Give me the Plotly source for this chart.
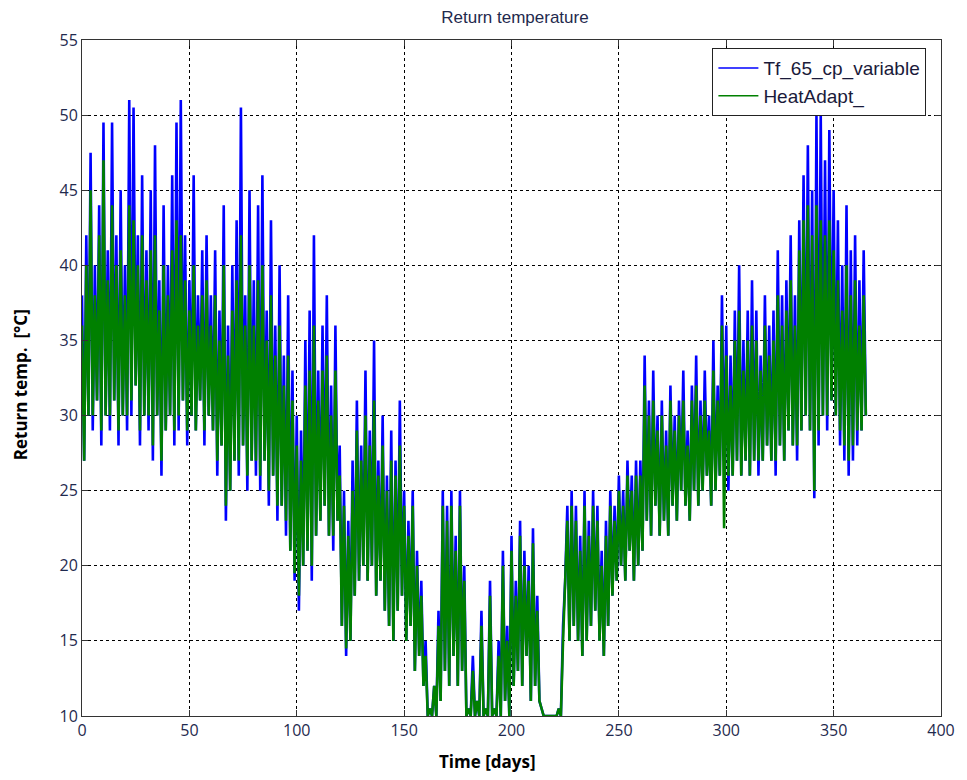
import plotly.graph_objects as go

# Daily samples (day index 0..365)
days = list(range(366))

tf65_cp_variable = [
    38, 27, 42, 30, 47.5, 29, 40, 31, 44, 28,
    49.5, 30, 41, 29, 49.5, 31, 42, 28, 45, 30,
    40, 29, 51, 30, 50.5, 32, 42, 28, 46, 30,
    41, 29, 45, 27, 48, 30, 39, 26, 44, 29,
    40, 30, 46, 28, 49.5, 29, 51, 31, 42, 28,
    39, 30, 46, 29, 38, 31, 41, 28, 42, 30,
    38, 29, 41, 26, 37, 28, 44, 23, 36, 25,
    40, 27, 43, 26, 50.5, 28, 38, 25, 45, 27,
    39, 26, 44, 25, 46, 27, 37, 24, 43, 26,
    36, 23, 40, 24, 34, 22, 38, 21, 33, 19,
    30, 17, 29, 20, 35, 21, 37, 19, 42, 22,
    33, 23, 36, 24, 38, 22, 32, 21, 36, 23,
    28, 16, 25, 14, 23, 15, 27, 18, 31, 19,
    28, 20, 33, 19, 29, 20, 35, 18, 27, 19,
    30, 17, 26, 16, 29, 15, 27, 17, 31, 18,
    25, 15, 23, 16, 25, 13, 21, 14, 19, 12,
    15, 10, 10.5, 10, 12, 10, 17, 11, 25, 13,
    24, 12, 25, 14, 22, 12, 25, 13, 20, 10,
    10.5, 10, 14, 10, 11, 10, 17, 10, 10.5, 10,
    19, 10, 10.5, 10, 15, 10, 21, 11, 16, 10,
    22, 12, 19, 13, 23, 12, 21, 14, 20, 11,
    22.5, 12, 18, 11, 10.5, 10, 10, 10, 10, 10,
    10, 10, 10.5, 10, 16, 19, 24, 15, 25, 16,
    24, 15, 22, 14, 25, 15, 23, 16, 25, 17,
    24, 15, 21, 14, 23, 16, 25, 18, 24, 19,
    26, 20, 25, 19, 27, 21, 26, 19, 27, 20,
    27, 21, 34, 23, 31, 22, 33, 24, 30, 22,
    31, 23, 29, 22, 32, 24, 30, 23, 31, 25,
    33, 24, 29, 23, 32, 25, 34, 24, 31, 25,
    33, 26, 30, 24, 35, 25, 32, 26, 38, 27,
    36, 25, 34, 26, 37, 27, 40, 26, 35, 27,
    37, 26, 39, 27, 37, 26, 34, 27, 38, 28,
    36, 27, 37, 26, 41, 28, 38, 27, 39, 29,
    42, 28, 38, 27, 43, 29, 46, 30, 48, 29,
    45, 24.5, 50, 28, 50, 30, 47, 29, 49, 31,
    45, 30, 43, 28, 40, 27, 44, 26, 41, 27,
    42, 28, 39, 29, 41, 30,
]

heatadapt = [
    36, 27, 40, 30, 45, 30, 38, 31, 42, 29,
    47, 30, 39, 30, 44, 31, 40, 29, 41, 30,
    38, 30, 44, 31, 43, 32, 40, 29, 42, 30,
    39, 30, 41, 28, 42, 30, 37, 27, 40, 29,
    38, 30, 41, 29, 43, 30, 42, 31, 39, 29,
    37, 30, 40, 29, 36, 31, 38, 29, 39, 30,
    36, 29, 38, 27, 35, 28, 40, 24, 34, 25,
    37, 27, 39, 27, 42, 28, 36, 26, 40, 27,
    36, 27, 39, 26, 40, 27, 35, 25, 38, 26,
    34, 24, 36, 24, 32, 23, 34, 21, 31, 19.5,
    28, 18, 27, 20, 32, 21, 33, 20, 36, 22,
    31, 23, 33, 24, 34, 22, 30, 22, 33, 23,
    26, 16, 24, 14.5, 22, 15, 25, 18, 29, 19,
    27, 20, 30, 19, 28, 20, 31, 18, 26, 19,
    28, 17, 25, 16, 27, 15, 26, 17, 28, 18,
    24, 15, 22, 16, 24, 13, 20, 14, 18, 12,
    14, 10, 10.5, 10, 12, 10, 16, 11, 24, 13,
    23, 12, 24, 14, 21, 12, 24, 13, 19, 10,
    10.5, 10, 13, 10, 11, 10, 16, 10, 10.5, 10,
    18, 10, 10.5, 10, 14, 10, 20, 11, 15, 10,
    21, 12, 18, 13, 22, 12, 20, 14, 19, 11,
    21.5, 12, 17, 11, 10.5, 10, 10, 10, 10, 10,
    10, 10, 10.5, 10, 15, 19, 23, 15, 24, 16,
    23, 15, 21, 14, 24, 15, 22, 16, 24, 17,
    23, 15, 20, 14, 22, 16, 24, 18, 23, 19,
    25, 20, 24, 19, 26, 21, 25, 19, 26, 20,
    26, 21, 32, 23, 30, 22, 31, 24, 29, 22,
    30, 23, 28, 22, 31, 24, 29, 23, 30, 25,
    31, 24, 28, 23, 31, 25, 32, 24, 30, 25,
    31, 26, 29, 24, 33, 25, 31, 26, 36, 22.5,
    34, 26, 32, 26, 35, 27, 37, 26, 33, 27,
    35, 26, 36, 27, 35, 27, 33, 27, 36, 28,
    34, 27, 35, 27, 38, 28, 36, 27, 37, 29,
    39, 28, 36, 28, 41, 29, 43, 30, 44, 29,
    42, 25, 44, 29, 43, 30, 42, 30, 43, 31,
    41, 30, 39, 29, 37, 28, 40, 27, 38, 28,
    39, 29, 36, 29, 38, 30,
]

series_names = ["Tf_65_cp_variable", "HeatAdapt_"]
series_colors = ["#0000ff", "#008000"]

x_ticks = [0, 50, 100, 150, 200, 250, 300, 350, 400]
y_ticks = [10, 15, 20, 25, 30, 35, 40, 45, 50, 55]

tick_color = "#1f2a4e"

fig = go.Figure()
for vals, name, col in zip([tf65_cp_variable, heatadapt], series_names, series_colors):
    fig.add_trace(go.Scatter(x=days, y=vals, mode="lines", name=name,
                             showlegend=False, legendgroup=name,
                             line=dict(color=col, width=2.6, simplify=False)))
# legend entries drawn with thin lines, as in the reference
for name, col in zip(series_names, series_colors):
    fig.add_trace(go.Scatter(x=[None], y=[None], mode="lines", name=name,
                             legendgroup=name, showlegend=True,
                             line=dict(color=col, width=1.5)))

axis_common = dict(
    showline=True, linecolor="#333333", linewidth=1, mirror="ticks",
    ticks="inside", ticklen=6, tickcolor="#333333",
    showgrid=True, gridcolor="#000000", gridwidth=1, griddash="dot",
    zeroline=False,
    tickfont=dict(family="Open Sans, sans-serif", size=16, color=tick_color),
)

fig.update_xaxes(range=[0, 400], tickvals=x_ticks, **axis_common)
fig.update_yaxes(range=[10, 55], tickvals=y_ticks, **axis_common)

fig.update_layout(
    width=967, height=780,
    margin=dict(l=82, r=19, t=40, b=64),
    paper_bgcolor="white", plot_bgcolor="white",
    showlegend=True,
    legend=dict(x=0.983, y=0.988, xanchor="right", yanchor="top",
                bgcolor="white", bordercolor="#222222", borderwidth=1,
                font=dict(family="Liberation Sans, Arial, sans-serif", size=19, color="#1a1a3a"),
                tracegroupgap=0, itemwidth=40),
    title=dict(text="Return temperature", x=0.5325, xanchor="center", y=0.978, yanchor="middle",
               font=dict(family="Liberation Sans, Arial, sans-serif", size=17, color="#1f2a4e")),
    annotations=[
        dict(text="<b>Time [days]</b>", xref="paper", yref="paper",
             x=0.472, y=-0.068, xanchor="center", yanchor="middle", showarrow=False,
             font=dict(family="Open Sans, sans-serif", size=17, color="black")),
        dict(text="<b>Return temp.  [°C]</b>", xref="paper", yref="paper",
             x=-0.0716, y=0.49, xanchor="center", yanchor="middle", showarrow=False,
             textangle=-90,
             font=dict(family="Open Sans, sans-serif", size=17, color="black")),
    ],
)

fig.write_html("out.html")
